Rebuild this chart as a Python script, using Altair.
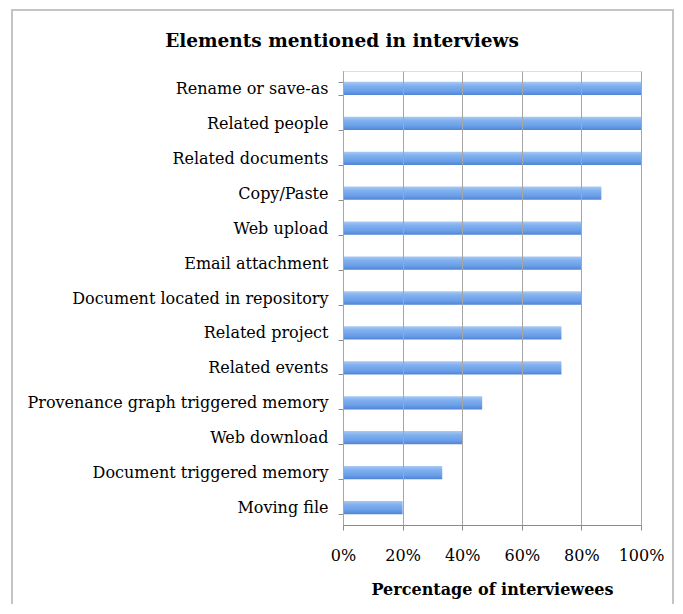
import altair as alt
import pandas as pd

categories = [
    "Rename or save-as",
    "Related people",
    "Related documents",
    "Copy/Paste",
    "Web upload",
    "Email attachment",
    "Document located in repository",
    "Related project",
    "Related events",
    "Provenance graph triggered memory",
    "Web download",
    "Document triggered memory",
    "Moving file",
]
percentages = [100, 100, 100, 86.7, 80, 80, 80, 73.3, 73.3, 46.7, 40, 33.3, 20]
x_ticks = [0, 20, 40, 60, 80, 100]

df = pd.DataFrame({"element": categories, "pct": percentages})

FONT = "DejaVu Serif"
W, H = 298, 454

gradient = alt.LinearGradient(
    gradient="linear",
    x1=0, y1=0, x2=0, y2=1,
    stops=[
        alt.GradientStop(color="#a9c9f4", offset=0),
        alt.GradientStop(color="#80b0ee", offset=0.3),
        alt.GradientStop(color="#6a9ee8", offset=0.7),
        alt.GradientStop(color="#4f85d6", offset=1),
    ],
)

bars = alt.Chart(df).mark_bar(color=gradient, cornerRadius=0).encode(
    x=alt.X(
        "pct:Q",
        scale=alt.Scale(domain=[0, 100], nice=False),
        axis=alt.Axis(
            values=x_ticks,
            labelExpr="datum.value + '%'",
            labelOverlap=False,
            labelFlush=False,
            title="Percentage of interviewees",
            titleFont=FONT,
            titleFontWeight="bold",
            titleFontSize=16,
            titleColor="#000",
            titlePadding=18,
            labelFont=FONT,
            labelFontSize=16,
            labelColor="#000",
            labelPadding=17,
            grid=True,
            gridColor="#a6a6a6",
            gridWidth=1,
            domainColor="#8c8c8c",
            tickColor="#8c8c8c",
            tickSize=5,
            zindex=1,
        ),
    ),
    y=alt.Y(
        "element:N",
        sort=categories,
        scale=alt.Scale(paddingInner=0.62, paddingOuter=0.31),
        axis=alt.Axis(
            title=None,
            labelFont=FONT,
            labelFontSize=16,
            labelColor="#000",
            labelPadding=10,
            labelLimit=400,
            tickBand="extent",
            tickColor="#8c8c8c",
            tickSize=5,
            domainColor="#8c8c8c",
            grid=False,
        ),
    ),
)

frame = alt.Chart(df).mark_rect(
    filled=False, stroke="#c4c4c4", strokeWidth=1.5, clip=False
).encode(
    x=alt.value(-331), x2=alt.value(330), y=alt.value(-61), y2=alt.value(560)
)

chart = (
    alt.layer(frame, bars)
    .properties(
        width=W,
        height=H,
        title=alt.TitleParams(
            "Elements mentioned in interviews",
            font=FONT,
            fontSize=18.5,
            fontWeight="bold",
            color="#000",
            anchor="middle",
            frame="group",
            dx=-150,
            offset=-41,
        ),
        autosize=alt.AutoSizeParams(type="none"),
        padding={"left": 335, "top": 63, "right": 34, "bottom": 79},
    )
    .configure_view(stroke=None)
    .configure(background="white")
)

chart.save("out.html", embed_options={"renderer": "svg", "actions": False})
